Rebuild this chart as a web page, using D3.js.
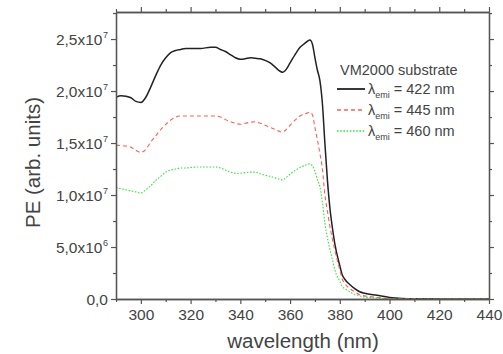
<!DOCTYPE html>
<html>
<head>
<meta charset="utf-8">
<script src="https://cdn.jsdelivr.net/npm/d3@7"></script>
<style>
  html, body { margin: 0; padding: 0; background: #fff; }
  svg { display: block; font-family: "Liberation Sans", Arial, sans-serif; }
</style>
</head>
<body>
<svg id="chart" width="503" height="354"></svg>
<script>
// Excitation wavelength (nm), shared by all three spectra
const wavelength = [290, 292, 294, 296, 298, 300, 302, 304, 306, 308, 310, 312, 314, 316, 318, 320,
  324, 328, 330, 332, 334, 336, 338, 340,
  342, 344, 346, 348, 350, 352, 354, 356, 357, 358,
  360, 362, 364, 366, 368,
  369, 370, 371, 372, 373, 374, 375, 376, 377, 378,
  380, 381, 382, 384, 386, 388, 390,
  395, 400, 405, 410, 420, 430, 440];

// PE intensity in units of 10^6 (arb. units)
const pe422 = [19.4, 19.55, 19.5, 19.35, 19.0, 18.9, 19.4, 20.4, 21.5, 22.5, 23.2, 23.7, 23.9, 24.0, 24.1, 24.1,
  24.1, 24.2, 24.2, 24.0, 23.8, 23.5, 23.2, 23.05,
  23.1, 23.2, 23.15, 23.1, 22.95, 22.7, 22.3, 21.9, 21.8, 21.95,
  22.7, 23.5, 24.2, 24.6, 24.9,
  24.5, 23.2, 22.0, 21.0, 18.8, 15.0, 11.5, 8.8, 6.9, 5.3,
  3.2, 2.3, 1.9, 1.4, 1.0, 0.7, 0.55,
  0.35, 0.15, 0.05, 0.02, 0.01, 0, 0];

const pe445 = [14.8, 14.75, 14.7, 14.6, 14.3, 14.1, 14.4, 15.1, 15.7, 16.3, 16.8, 17.2, 17.5, 17.6, 17.6, 17.6,
  17.6, 17.6, 17.6, 17.5, 17.25, 17.05, 16.9, 16.8,
  16.9, 17.0, 17.05, 16.9, 16.7, 16.5, 16.3, 16.1, 16.05, 16.2,
  16.7, 17.2, 17.6, 17.8, 17.95,
  17.7, 16.5, 15.3, 14.0, 12.5, 10.0, 8.5, 7.0, 5.8, 4.7,
  2.8, 1.9, 1.5, 1.0, 0.7, 0.4, 0.3,
  0.15, 0.05, 0.02, 0.01, 0, 0, 0];

const pe460 = [10.7, 10.6, 10.5, 10.4, 10.3, 10.2, 10.5, 10.9, 11.4, 11.8, 12.2, 12.4, 12.5, 12.6, 12.6, 12.65,
  12.7, 12.7, 12.7, 12.6, 12.4, 12.2, 12.1, 12.1,
  12.15, 12.2, 12.2, 12.05, 11.9, 11.8, 11.65, 11.5, 11.45, 11.6,
  12.0, 12.35, 12.65, 12.85, 13.0,
  12.8, 12.3, 11.5, 10.8, 9.3, 7.3, 5.9, 4.8, 3.8, 2.8,
  1.7, 1.2, 1.0, 0.7, 0.45, 0.3, 0.2,
  0.1, 0.03, 0, 0, 0, 0, 0];

const seriesNames = ["422", "445", "460"];

// Axis ticks
const xTicks = [300, 320, 340, 360, 380, 400, 420, 440];
const xMinorTicks = [290, 310, 330, 350, 370, 390, 410, 430];
const yTicks = [0, 5, 10, 15, 20, 25];
const yMinorTicks = [2.5, 7.5, 12.5, 17.5, 22.5, 27.5];
// Tick label mantissa and exponent
const yTickMantissa = ["0,0", "5,0x10", "1,0x10", "1,5x10", "2,0x10", "2,5x10"];
const yTickExponent = ["", "6", "7", "7", "7", "7"];

const margin = { left: 116, right: 14, top: 12, bottom: 55 };
const W = 503, H = 354;
const svg = d3.select("#chart");

const x = d3.scaleLinear().domain([290, 440]).range([margin.left, W - margin.right]);
const y = d3.scaleLinear().domain([0, 27.6]).range([H - margin.bottom, margin.top]);

const axisColor = "#555";
const textColor = "#444";

// Clip the spectra to the frame
svg.append("clipPath").attr("id", "plotClip")
  .append("rect")
  .attr("x", x.range()[0]).attr("y", y.range()[1])
  .attr("width", x.range()[1] - x.range()[0])
  .attr("height", y.range()[0] - y.range()[1]);

const styles = [
  { color: "#222", width: 1.5, dash: null },
  { color: "#ff5c5c", width: 1.1, dash: "4,3" },
  { color: "#3fe03f", width: 1.1, dash: "1.6,1.6" }
];
const seriesData = [pe422, pe445, pe460];

const line = d3.line()
  .x((d, i) => x(wavelength[i]))
  .y(d => y(d))
  .curve(d3.curveMonotoneX);

const plot = svg.append("g").attr("clip-path", "url(#plotClip)");
seriesData.forEach((vals, k) => {
  plot.append("path")
    .datum(vals)
    .attr("fill", "none")
    .attr("stroke", styles[k].color)
    .attr("stroke-width", styles[k].width)
    .attr("stroke-dasharray", styles[k].dash)
    .attr("stroke-linejoin", "round")
    .attr("d", line);
});

// Axes: major and minor ticks on all four sides
function styleAxis(g) {
  g.select(".domain").attr("stroke", axisColor).attr("stroke-width", 1.3);
  g.selectAll(".tick line").attr("stroke", axisColor).attr("stroke-width", 1.2);
  g.selectAll(".tick text").attr("fill", textColor);
}

const bottomY = y.range()[0], topY = y.range()[1];
const leftX = x.range()[0], rightX = x.range()[1];

// bottom
svg.append("g").attr("transform", `translate(0,${bottomY})`)
  .call(d3.axisBottom(x).tickValues(xMinorTicks).tickSize(3).tickSizeOuter(0).tickFormat(""))
  .call(styleAxis);
svg.append("g").attr("transform", `translate(0,${bottomY})`)
  .call(d3.axisBottom(x).tickValues(xTicks).tickSize(5).tickSizeOuter(0).tickPadding(5))
  .call(styleAxis)
  .selectAll(".tick text").attr("font-size", 15.5).attr("font-family", "Liberation Sans, Arial, sans-serif");

// top
svg.append("g").attr("transform", `translate(0,${topY})`)
  .call(d3.axisTop(x).tickValues(xMinorTicks).tickSize(3).tickSizeOuter(0).tickFormat(""))
  .call(styleAxis);
svg.append("g").attr("transform", `translate(0,${topY})`)
  .call(d3.axisTop(x).tickValues(xTicks).tickSize(5).tickSizeOuter(0).tickFormat(""))
  .call(styleAxis);

// left
svg.append("g").attr("transform", `translate(${leftX},0)`)
  .call(d3.axisLeft(y).tickValues(yMinorTicks).tickSize(3).tickSizeOuter(0).tickFormat(""))
  .call(styleAxis);
const yAxisG = svg.append("g").attr("transform", `translate(${leftX},0)`)
  .call(d3.axisLeft(y).tickValues(yTicks).tickSize(5).tickSizeOuter(0).tickFormat(""))
  .call(styleAxis);

yAxisG.selectAll(".tick").each(function (d, i) {
  const t = d3.select(this).append("text")
    .attr("x", -8)
    .attr("dy", "0.36em")
    .attr("text-anchor", "end")
    .attr("fill", textColor)
    .attr("font-size", 15.5);
  t.append("tspan").text(yTickMantissa[i]);
  if (yTickExponent[i]) {
    t.append("tspan").attr("font-size", 9).attr("dy", "-0.75em").attr("dx", 0.5).text(yTickExponent[i]);
  }
});

// right
svg.append("g").attr("transform", `translate(${rightX},0)`)
  .call(d3.axisRight(y).tickValues(yMinorTicks).tickSize(3).tickSizeOuter(0).tickFormat(""))
  .call(styleAxis);
svg.append("g").attr("transform", `translate(${rightX},0)`)
  .call(d3.axisRight(y).tickValues(yTicks).tickSize(5).tickSizeOuter(0).tickFormat(""))
  .call(styleAxis);

// Axis titles
svg.append("text")
  .attr("x", (leftX + rightX) / 2 + 0.5)
  .attr("y", 348)
  .attr("text-anchor", "middle")
  .attr("fill", textColor)
  .attr("font-size", 20.5)
  .text("wavelength (nm)");

svg.append("text")
  .attr("transform", `translate(40,${(topY + bottomY) / 2 + 7}) rotate(-90)`)
  .attr("text-anchor", "middle")
  .attr("fill", textColor)
  .attr("font-size", 20.5)
  .text("PE (arb. units)");

// Legend
const legend = svg.append("g");
legend.append("text")
  .attr("x", 340).attr("y", 75)
  .attr("fill", textColor)
  .attr("font-size", 14.5)
  .text("VM2000 substrate");

seriesNames.forEach((name, k) => {
  const ly = 89 + k * 21;
  legend.append("line")
    .attr("x1", 337).attr("x2", 365)
    .attr("y1", ly).attr("y2", ly)
    .attr("stroke", styles[k].color)
    .attr("stroke-width", styles[k].width + 0.3)
    .attr("stroke-dasharray", styles[k].dash);
  const t = legend.append("text")
    .attr("x", 368).attr("y", ly + 5)
    .attr("fill", textColor)
    .attr("font-size", 14.5);
  t.append("tspan").text("λ");
  t.append("tspan").attr("font-size", 9).attr("dy", 4).text("emi");
  t.append("tspan").attr("dy", -4).text(" = " + name + " nm");
});
</script>
</body>
</html>
